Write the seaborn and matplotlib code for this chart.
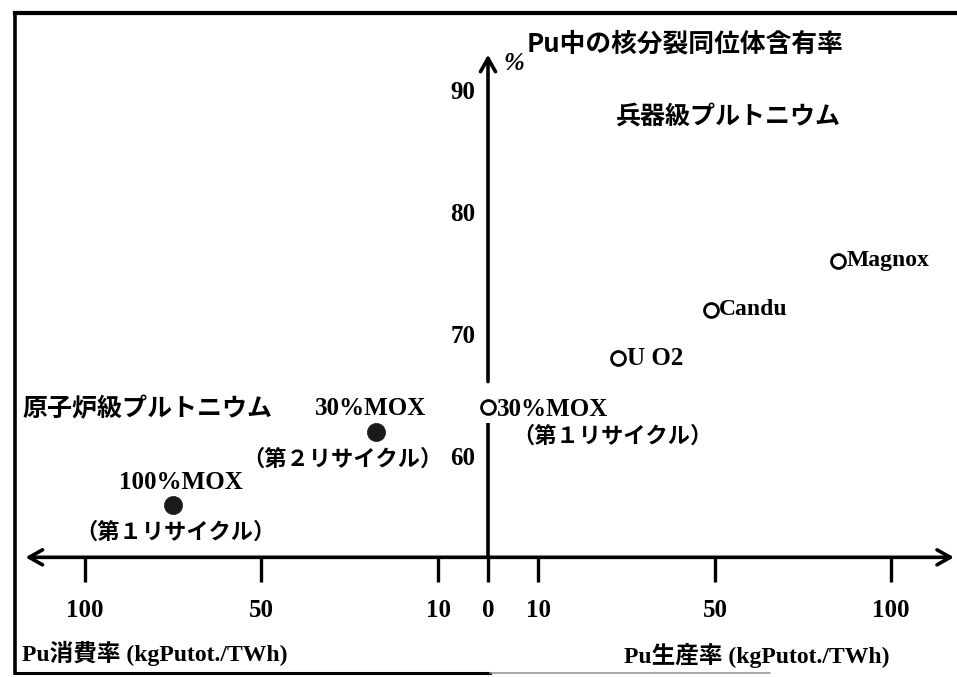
import numpy as np
import pandas as pd
import matplotlib
matplotlib.use("Agg")
import matplotlib.pyplot as plt
from matplotlib.lines import Line2D
import seaborn as sns

# ---- data ------------------------------------------------------------
reactors = ["100%MOX", "30%MOX", "30%MOX", "UO2", "Candu", "Magnox"]
recycle = ["（第１リサイクル）", "（第２リサイクル）", "（第１リサイクル）", "", "", ""]
pu_balance = [-75, -24, 0, 28, 49, 85]        # kgPutot./TWh, negative = consumed
fissile_share = [56, 62, 64, 68, 72, 76]      # fissile isotopes in Pu, %
mox_recycled = [True, True, False, False, False, False]

x_ticks = [-100, -50, -10, 0, 10, 50, 100]
x_ticklabels = ["100", "50", "10", "0", "10", "50", "100"]
y_ticks = [60, 70, 80, 90]
y_ticklabels = ["60", "70", "80", "90"]

df = pd.DataFrame({"reactor": reactors, "recycle": recycle, "pu": pu_balance,
                   "fissile": fissile_share, "mox": mox_recycled})

# ---- style -----------------------------------------------------------
sns.set_theme(style="white")
CJK = ["Noto Sans CJK JP", "DejaVu Sans"]
SERIF = ["Liberation Serif", "Noto Sans CJK JP"]
plt.rcParams["font.family"] = CJK
plt.rcParams["text.color"] = "black"
plt.rcParams["xtick.color"] = "black"
plt.rcParams["ytick.color"] = "black"

W, H = 957, 677
fig = plt.figure(figsize=(W / 100, H / 100), dpi=100)
ax = fig.add_axes([0, 0, 1, 1])

# symmetric piecewise-linear scale: wide near zero, compressed at large rates
BX = [0, 10, 50, 100, 300]
BP = [0, 50, 227, 403, 1103]


def fwd(v):
    v = np.asarray(v, float)
    return np.sign(v) * np.interp(np.abs(v), BX, BP)


def inv(p):
    p = np.asarray(p, float)
    return np.sign(p) * np.interp(np.abs(p), BP, BX)


ax.set_xscale("function", functions=(fwd, inv))
ax.set_xlim(float(inv(-488)), float(inv(W - 488)))
ax.set_ylim(41.89, 97.38)
ax.set_facecolor("white")

AXIS_Y = 51.7

# ---- points ----------------------------------------------------------
sns.scatterplot(data=df[df.mox], x="pu", y="fissile", ax=ax, color="#1a1a1a",
                edgecolor="#1a1a1a", s=170, linewidth=0.5, legend=False, zorder=5)
sns.scatterplot(data=df[~df.mox], x="pu", y="fissile", ax=ax, color="white",
                edgecolor="black", s=100, linewidth=2.0, legend=False, zorder=5)
ax.set_xlabel("")
ax.set_ylabel("")

# ---- axes through the origin -----------------------------------------
for s in ax.spines.values():
    s.set_visible(False)
ax.spines["bottom"].set_position(("data", AXIS_Y))
ax.spines["left"].set_position(("data", 0))

arrow = dict(arrowstyle="->,head_length=0.8,head_width=0.45", lw=2.6,
             color="black", shrinkA=0, shrinkB=0, mutation_scale=12)
ax.annotate("", xy=(-117, AXIS_Y), xytext=(0, AXIS_Y), arrowprops=arrow)
ax.annotate("", xy=(118, AXIS_Y), xytext=(0, AXIS_Y), arrowprops=arrow)
ax.annotate("", xy=(0, 92.9), xytext=(0, 66.1), arrowprops=arrow)
ax.plot([0, 0], [AXIS_Y, 62.7], color="black", lw=2.6, solid_capstyle="butt")

ax.set_xticks(x_ticks, x_ticklabels, fontfamily=SERIF, fontweight="bold",
              fontsize=18, color="black")
ax.tick_params(axis="x", bottom=True, direction="out", length=18, width=2.4,
               color="black", pad=12, labelcolor="black")
ax.set_yticks(y_ticks, y_ticklabels, fontfamily=SERIF, fontweight="bold",
              fontsize=18, color="black")
ax.tick_params(axis="y", left=True, length=0, pad=9, labelcolor="black")
ax.grid(False)

# ---- point labels ----------------------------------------------------
lab_serif = dict(fontfamily=SERIF, fontweight="bold", fontsize=18, color="black",
                 textcoords="offset pixels", va="center")
lab_cjk = dict(fontfamily=CJK, fontweight="bold", fontsize=16, color="black",
               textcoords="offset pixels", va="center")

row = df.iloc[0]
ax.annotate(row.reactor, (row.pu, row.fissile), xytext=(8, 22), ha="center", **lab_serif)
ax.annotate(row.recycle, (row.pu, row.fissile), xytext=(2, -27), ha="center", **lab_cjk)
row = df.iloc[1]
ax.annotate(row.reactor, (row.pu, row.fissile), xytext=(-5, 23), ha="center", **lab_serif)
ax.annotate(row.recycle, (row.pu, row.fissile), xytext=(-34, -28), ha="center", **lab_cjk)
row = df.iloc[2]
ax.annotate(row.reactor, (row.pu, row.fissile), xytext=(9, -2), ha="left", **lab_serif)
ax.annotate(row.recycle, (row.pu, row.fissile), xytext=(24, -29), ha="left", **lab_cjk)
row = df.iloc[3]
ax.annotate("U O2", (row.pu, row.fissile), xytext=(9, 0), ha="left", **lab_serif)
for i in (4, 5):
    row = df.iloc[i]
    ax.annotate(row.reactor, (row.pu, row.fissile), xytext=(8, 0), ha="left",
                fontfamily=SERIF, fontweight="bold", fontsize=17, color="black",
                textcoords="offset pixels", va="center")


# ---- free text -------------------------------------------------------
def fx(px):
    return px / W


def fy(py):
    return 1 - py / H


fig.text(fx(527), fy(44), "Pu中の核分裂同位体含有率", ha="left", va="center",
         fontsize=18.5, fontweight="bold", family=CJK, color="black")
fig.text(fx(503), fy(64), "%", ha="left", va="center", fontsize=18,
         fontweight="bold", family=SERIF, style="italic", color="black")
fig.text(fx(616), fy(117), "兵器級プルトニウム", ha="left", va="center",
         fontsize=18, fontweight="bold", family=CJK, color="black")
fig.text(fx(23), fy(409), "原子炉級プルトニウム", ha="left", va="center",
         fontsize=18, fontweight="bold", family=CJK, color="black")
fig.text(fx(22), fy(653), "Pu消費率 (kgPutot./TWh)", ha="left", va="center",
         fontsize=17, fontweight="bold", family=SERIF, color="black")
fig.text(fx(624), fy(655), "Pu生産率 (kgPutot./TWh)", ha="left", va="center",
         fontsize=17, fontweight="bold", family=SERIF, color="black")

# ---- outer frame -----------------------------------------------------
frame = dict(color="black", transform=fig.transFigure, solid_capstyle="projecting")
fig.add_artist(Line2D([fx(15), 1], [fy(13), fy(13)], lw=3.0, **frame))
fig.add_artist(Line2D([fx(15), fx(15)], [fy(13), fy(673)], lw=2.6, **frame))
fig.add_artist(Line2D([fx(15), fx(490)], [fy(673), fy(673)], lw=2.2, **frame))
fig.add_artist(Line2D([fx(490), fx(770)], [fy(673), fy(673)], lw=1.2,
                      color="#9a9a9a", transform=fig.transFigure))

fig.savefig("out.png", dpi=100, facecolor="white")
